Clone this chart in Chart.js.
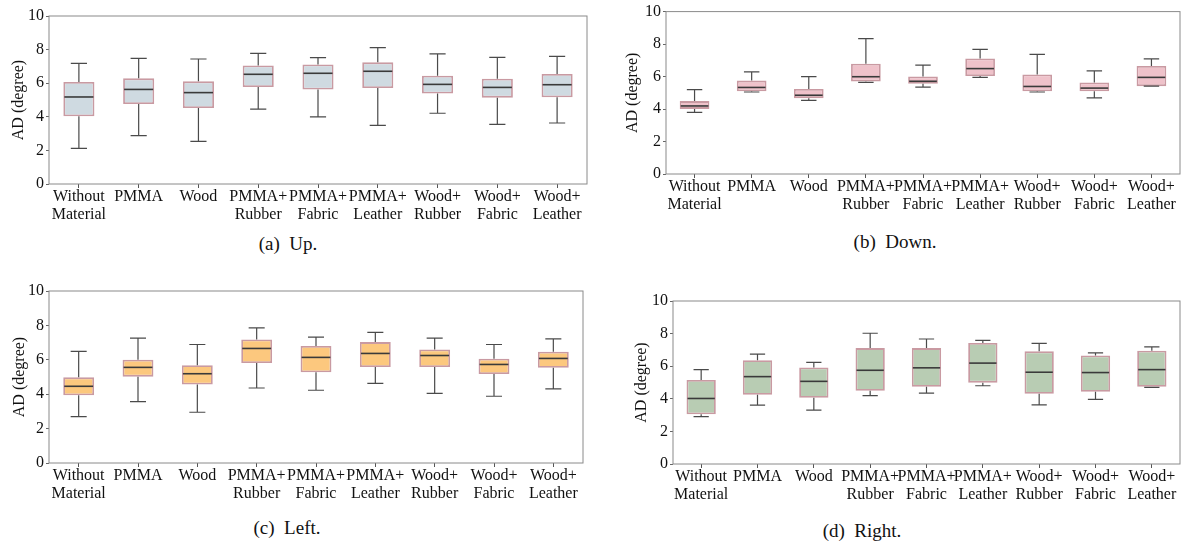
<!DOCTYPE html>
<html>
<head>
<meta charset="utf-8">
<script src="https://cdn.jsdelivr.net/npm/chart.js@4.4.1/dist/chart.umd.min.js"></script>
<style>
  html, body { margin: 0; padding: 0; background: #fff; }
  #page { position: relative; width: 1193px; height: 544px; overflow: hidden; }
  canvas { position: absolute; }
  .cap {
    position: absolute;
    transform: translate(-50%, -50%);
    font: 19px "Liberation Serif", "Times New Roman", serif;
    color: #111;
    white-space: pre;
  }
</style>
</head>
<body>
<div id="page">
  <canvas id="up"></canvas>
  <canvas id="down"></canvas>
  <canvas id="left"></canvas>
  <canvas id="right"></canvas>
  <div class="cap" style="left:288px; top:244px">(a)  Up.</div>
  <div class="cap" style="left:895px; top:242px">(b)  Down.</div>
  <div class="cap" style="left:287px; top:528px">(c)  Left.</div>
  <div class="cap" style="left:862px; top:531px">(d)  Right.</div>
</div>
<script>
const categories = [
  ["Without", "Material"], "PMMA", "Wood",
  ["PMMA+", "Rubber"], ["PMMA+", "Fabric"], ["PMMA+", "Leather"],
  ["Wood+", "Rubber"], ["Wood+", "Fabric"], ["Wood+", "Leather"]
]
const yTicks = [0, 2, 4, 6, 8, 10]

// each row: [min, q1, median, q3, max]
const upStats = [
  [2.12, 4.03, 5.18, 6.07, 7.18],
  [2.88, 4.76, 5.63, 6.29, 7.48],
  [2.54, 4.52, 5.44, 6.11, 7.44],
  [4.46, 5.77, 6.53, 7.06, 7.78],
  [3.99, 5.62, 6.59, 7.12, 7.52],
  [3.49, 5.71, 6.71, 7.24, 8.12],
  [4.21, 5.38, 5.93, 6.45, 7.74],
  [3.55, 5.14, 5.75, 6.27, 7.54],
  [3.63, 5.16, 5.91, 6.55, 7.60]
]
const downStats = [
  [3.79, 4.01, 4.19, 4.49, 5.19],
  [5.05, 5.09, 5.33, 5.75, 6.29],
  [4.53, 4.67, 4.85, 5.23, 5.99],
  [5.64, 5.69, 5.99, 6.79, 8.34],
  [5.35, 5.55, 5.71, 6.01, 6.71],
  [5.95, 6.03, 6.49, 7.11, 7.68],
  [5.05, 5.09, 5.39, 6.13, 7.37],
  [4.69, 5.09, 5.29, 5.63, 6.35],
  [5.41, 5.41, 5.95, 6.65, 7.09]
]
const leftStats = [
  [2.70, 3.94, 4.46, 4.98, 6.49],
  [3.57, 5.02, 5.56, 6.00, 7.26],
  [2.95, 4.56, 5.19, 5.68, 6.89],
  [4.36, 5.81, 6.66, 7.18, 7.86],
  [4.23, 5.27, 6.14, 6.80, 7.32],
  [4.63, 5.58, 6.37, 7.03, 7.59],
  [4.05, 5.58, 6.25, 6.60, 7.26],
  [3.88, 5.17, 5.73, 6.06, 6.89],
  [4.31, 5.54, 6.08, 6.47, 7.22]
]
const rightStats = [
  [2.91, 3.05, 4.02, 5.15, 5.79],
  [3.61, 4.25, 5.36, 6.37, 6.74],
  [3.30, 4.06, 5.07, 5.92, 6.23],
  [4.19, 4.49, 5.75, 7.11, 8.02],
  [4.35, 4.74, 5.90, 7.11, 7.67],
  [4.80, 4.99, 6.19, 7.42, 7.59],
  [3.63, 4.31, 5.63, 6.91, 7.40],
  [3.96, 4.43, 5.61, 6.66, 6.82],
  [4.70, 4.74, 5.79, 6.95, 7.18]
]

Chart.defaults.font.family = "'Liberation Serif', 'Times New Roman', serif"
Chart.defaults.font.size = 16
Chart.defaults.color = "#111"
Chart.defaults.animation = false

const frame = "#8a8a8a"
const boxEdge = "#c99aa2"

// whiskers, caps, median and the outer frame
const boxPlot = {
  id: "boxPlot",
  afterDatasetsDraw(chart) {
    const { ctx, chartArea: a, scales: { y } } = chart
    const stats = chart.config.options.plugins.boxPlot.stats
    const meta = chart.getDatasetMeta(0)
    ctx.save()
    meta.data.forEach((bar, i) => {
      const [mn, q1, md, q3, mx] = stats[i]
      const x = bar.x, half = bar.width / 2, cap = bar.width * 0.26
      ctx.strokeStyle = "#4a4a4a"
      ctx.lineWidth = 1.2
      ctx.beginPath()
      ctx.moveTo(x, y.getPixelForValue(q3)); ctx.lineTo(x, y.getPixelForValue(mx))
      ctx.moveTo(x, y.getPixelForValue(q1)); ctx.lineTo(x, y.getPixelForValue(mn))
      ctx.moveTo(x - cap, y.getPixelForValue(mx)); ctx.lineTo(x + cap, y.getPixelForValue(mx))
      ctx.moveTo(x - cap, y.getPixelForValue(mn)); ctx.lineTo(x + cap, y.getPixelForValue(mn))
      ctx.stroke()
      ctx.strokeStyle = "#3a3a3a"
      ctx.lineWidth = 1.6
      ctx.beginPath()
      ctx.moveTo(x - half + 1, y.getPixelForValue(md)); ctx.lineTo(x + half - 1, y.getPixelForValue(md))
      ctx.stroke()
    })
    ctx.strokeStyle = frame
    ctx.lineWidth = 1
    ctx.strokeRect(a.left, a.top, a.right - a.left, a.bottom - a.top)
    ctx.restore()
  }
}

const panels = [
  { id: "up",    stats: upStats,    fill: "#cfdae1", left: 0,   top: 0,   w: 600, h: 230, pad: { left: 4.9,  top: 16, right: 13, bottom: 0 }, axisW: 44.1, axisH: 46 },
  { id: "down",  stats: downStats,  fill: "#efc2ca", left: 600, top: 0,   w: 593, h: 230, pad: { left: 19.4, top: 7,  right: 13, bottom: 0 }, axisW: 46.6, axisH: 56 },
  { id: "left",  stats: leftStats,  fill: "#fcc87e", left: 0,   top: 270, w: 600, h: 240, pad: { left: 6.4,  top: 21, right: 17, bottom: 0 }, axisW: 42.6, axisH: 47 },
  { id: "right", stats: rightStats, fill: "#b8ccb3", left: 600, top: 280, w: 593, h: 240, pad: { left: 28.1, top: 21, right: 13, bottom: 0 }, axisW: 44.9, axisH: 56 }
]

panels.forEach(p => {
  const el = document.getElementById(p.id)
  el.style.left = p.left + "px"
  el.style.top = p.top + "px"
  el.style.width = p.w + "px"
  el.style.height = p.h + "px"
  el.width = p.w
  el.height = p.h

  new Chart(el, {
    type: "bar",
    data: {
      labels: categories,
      datasets: [{
        data: p.stats.map(s => [s[1], s[3]]),
        backgroundColor: p.fill,
        borderColor: boxEdge,
        borderWidth: 1.8,
        borderSkipped: false,
        barPercentage: 0.52,
        categoryPercentage: 1
      }]
    },
    options: {
      responsive: false,
      maintainAspectRatio: false,
      layout: { padding: p.pad, autoPadding: false },
      plugins: {
        legend: { display: false },
        tooltip: { enabled: false },
        boxPlot: { stats: p.stats }
      },
      scales: {
        x: {
          grid: { display: true, drawOnChartArea: false, offset: false, tickLength: 4, color: "#555" },
          border: { display: false },
          ticks: { padding: 0, maxRotation: 0, autoSkip: false, font: { size: 16, lineHeight: 1.1 } },
          afterFit: (s) => { s.height = p.axisH }
        },
        y: {
          min: 0,
          max: 10,
          afterBuildTicks: (s) => { s.ticks = yTicks.map(v => ({ value: v })) },
          grid: { display: true, drawOnChartArea: false, tickLength: 3, color: "#666" },
          border: { display: false },
          ticks: { padding: 2, font: { size: 16 } },
          title: { display: true, text: "AD (degree)", font: { size: 16, lineHeight: 1.2 }, padding: { top: 4, bottom: 4 } },
          afterFit: (s) => { s.width = p.axisW }
        }
      }
    },
    plugins: [boxPlot]
  })
})
</script>
</body>
</html>
